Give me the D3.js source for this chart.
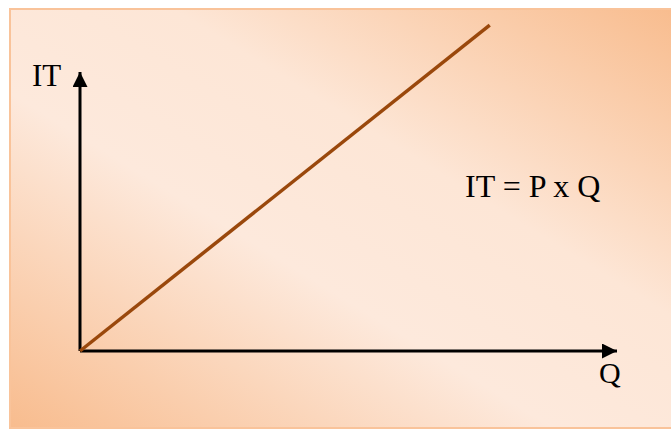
<!DOCTYPE html>
<html>
<head>
<meta charset="utf-8">
<script src="https://cdn.jsdelivr.net/npm/d3@7"></script>
<style>
  html, body { margin: 0; padding: 0; background: #fff; }
  svg { display: block; }
  text { font-family: "Liberation Serif", "Times New Roman", serif; fill: #000; }
</style>
</head>
<body>
<div id="chart"></div>
<script>
// revenue line IT = P x Q
const quantity = [0, 7.63];
const revenue = [0, 11.68];
const axisLabels = { y: "IT", x: "Q" };
const formula = "IT = P x Q";

const width = 671, height = 430;
const origin = { x: 80, y: 351 };

const svg = d3.select("#chart").append("svg")
  .attr("width", width)
  .attr("height", height);

// background gradient, orange corners with a wide light band
const defs = svg.append("defs");
const grad = defs.append("linearGradient")
  .attr("id", "bg")
  .attr("x1", "100%").attr("y1", "0%")
  .attr("x2", "0%").attr("y2", "100%");
grad.append("stop").attr("offset", "0%").attr("stop-color", "#f8bb8c");
grad.append("stop").attr("offset", "38%").attr("stop-color", "#fde6d6");
grad.append("stop").attr("offset", "60%").attr("stop-color", "#fde9dc");
grad.append("stop").attr("offset", "100%").attr("stop-color", "#f8bc8e");

defs.append("marker")
  .attr("id", "arrow")
  .attr("viewBox", "0 0 10 10")
  .attr("refX", 10).attr("refY", 5)
  .attr("markerUnits", "userSpaceOnUse")
  .attr("markerWidth", 16).attr("markerHeight", 15)
  .attr("orient", "auto")
  .append("path")
  .attr("d", "M0,0L10,5L0,10Z")
  .attr("fill", "#000");

svg.append("rect")
  .attr("x", 10).attr("y", 9)
  .attr("width", 680).attr("height", 419)
  .attr("fill", "url(#bg)")
  .attr("stroke", "#f9c39a")
  .attr("stroke-width", 2);

// scales
let x = d3.scaleLinear().domain([0, 10]).range([origin.x, 617]);
let y = d3.scaleLinear().domain([0, 10]).range([origin.y, 72]);

// axes
svg.append("line")
  .attr("x1", x(0)).attr("y1", y(0))
  .attr("x2", x(0)).attr("y2", y(10))
  .attr("stroke", "#000").attr("stroke-width", 3)
  .attr("marker-end", "url(#arrow)");

svg.append("line")
  .attr("x1", x(0)).attr("y1", y(0))
  .attr("x2", x(10)).attr("y2", y(0))
  .attr("stroke", "#000").attr("stroke-width", 3)
  .attr("marker-end", "url(#arrow)");

// the line
const line = d3.line()
  .x((d, i) => x(quantity[i]))
  .y((d, i) => y(revenue[i]));

svg.append("path")
  .datum(quantity)
  .attr("d", line)
  .attr("fill", "none")
  .attr("stroke", "#9a480c")
  .attr("stroke-width", 3.5);

// labels
svg.append("text")
  .attr("x", 32).attr("y", 86)
  .attr("font-size", 31)
  .text(axisLabels.y);

svg.append("text")
  .attr("x", 599).attr("y", 383)
  .attr("font-size", 30)
  .text(axisLabels.x);

svg.append("text")
  .attr("x", 465).attr("y", 197)
  .attr("font-size", 32)
  .text(formula);
</script>
</body>
</html>
